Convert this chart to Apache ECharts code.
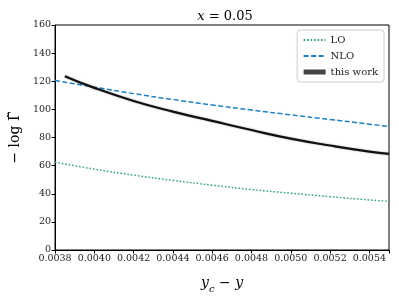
<!DOCTYPE html>
<html><head><meta charset="utf-8">
<script src="https://cdn.jsdelivr.net/npm/echarts@6/dist/echarts.min.js"></script>
<style>html,body{margin:0;padding:0;background:#fff}#c{width:399px;height:299px}</style>
</head><body><div id="c"></div>
<script>
const xLO = [0.0038, 0.0040, 0.0042, 0.0044, 0.0046, 0.0048, 0.0050, 0.0052, 0.0054, 0.0055];
const yLO = [62.5, 57.5, 53.2, 49.5, 46.1, 43.0, 40.4, 37.9, 35.6, 34.6];
const xNLO = [0.0038, 0.0040, 0.0042, 0.0044, 0.0046, 0.0048, 0.0050, 0.0052, 0.0054, 0.0055];
const yNLO = [120.5, 115.8, 111.2, 107.0, 103.1, 99.5, 96.1, 92.8, 89.5, 87.8];
const xThis = [0.00385, 0.0040, 0.0042, 0.0044, 0.0046, 0.0048, 0.0050, 0.0052, 0.0054, 0.0055];
const yThis = [123.6, 115.3, 106.0, 98.4, 91.8, 85.3, 79.2, 74.3, 70.0, 68.4];
const yTicks = [0, 20, 40, 60, 80, 100, 120, 140, 160];
const xTickStep = 0.0002;

const serif = "'DejaVu Serif', 'Liberation Serif', serif";
const pair = (xs, ys) => xs.map((x, i) => [x, ys[i]]);
const chart = echarts.init(document.getElementById('c'), null, {renderer: 'canvas'});
chart.setOption({
  animation: false,
  backgroundColor: '#fff',
  title: {
    text: '{i|x} = 0.05', left: 220, top: 5, textAlign: 'center',
    textStyle: {fontFamily: serif, fontSize: 13, fontWeight: 'normal', color: '#000',
      rich: {i: {fontFamily: serif, fontStyle: 'italic', fontSize: 13, color: '#000'}}}
  },
  grid: {left: 51, right: 10, top: 25, bottom: 43, show: true, borderColor: '#000', borderWidth: 1, backgroundColor: 'transparent'},
  legend: {
    right: 15, top: 30, orient: 'vertical', itemWidth: 22, itemHeight: 8, itemGap: 6,
    backgroundColor: '#fff', borderColor: '#ccc', borderWidth: 1, borderRadius: 3, padding: [5, 6, 5, 4],
    textStyle: {fontFamily: serif, fontSize: 10, color: '#222'},
    itemStyle: {opacity: 0},
    data: [
      {name: 'LO'},
      {name: 'NLO'},
      {name: 'this work', lineStyle: {width: 5, color: '#444', shadowBlur: 0}}
    ]
  },
  xAxis: {
    type: 'value', min: 0.0038, max: 0.0055, interval: xTickStep,
    name: '{i|y}{s|c} − {i|y}', nameLocation: 'middle', nameGap: 22,
    nameTextStyle: {fontFamily: serif, fontSize: 14, color: '#000',
      rich: {i: {fontFamily: serif, fontStyle: 'italic', fontSize: 14, lineHeight: 18},
             s: {fontFamily: serif, fontStyle: 'italic', fontSize: 10, verticalAlign: 'bottom', lineHeight: 22}}},
    axisLine: {show: true, lineStyle: {color: '#000', width: 1}},
    axisTick: {show: true, length: 3.5, inside: false, lineStyle: {color: '#000'}},
    splitLine: {show: false},
    axisLabel: {fontFamily: serif, fontSize: 9.5, color: '#222', margin: 4,
      formatter: v => { const k = v / xTickStep; return Math.abs(k - Math.round(k)) < 1e-6 ? v.toFixed(4) : ''; }}
  },
  yAxis: {
    type: 'value', min: yTicks[0], max: yTicks[yTicks.length - 1], interval: yTicks[1] - yTicks[0],
    name: '− log Γ̃', nameLocation: 'middle', nameGap: 28, nameRotate: 90,
    nameTextStyle: {fontFamily: serif, fontSize: 14, color: '#000'},
    axisLine: {show: true, lineStyle: {color: '#000', width: 1}},
    axisTick: {show: true, length: 3.5, inside: false, lineStyle: {color: '#000'}},
    splitLine: {show: false},
    axisLabel: {fontFamily: serif, fontSize: 9.5, color: '#222', margin: 4}
  },
  series: [
    {name: 'LO', type: 'line', data: pair(xLO, yLO), smooth: true, showSymbol: false, symbol: 'none',
     lineStyle: {color: '#1fa67a', width: 1.5, type: [1.5, 2]}, itemStyle: {color: '#1fa67a'}, z: 3},
    {name: 'NLO', type: 'line', data: pair(xNLO, yNLO), smooth: true, showSymbol: false, symbol: 'none',
     lineStyle: {color: '#1a82c8', width: 1.5, type: [5, 2.5]}, itemStyle: {color: '#1a82c8'}, z: 3},
    {name: 'this work', type: 'line', data: pair(xThis, yThis), smooth: true, showSymbol: false, symbol: 'none',
     lineStyle: {color: '#111', width: 2.2, shadowColor: 'rgba(0,0,0,0.35)', shadowBlur: 2}, itemStyle: {color: '#111'}, z: 4}
  ]
});
</script></body></html>
